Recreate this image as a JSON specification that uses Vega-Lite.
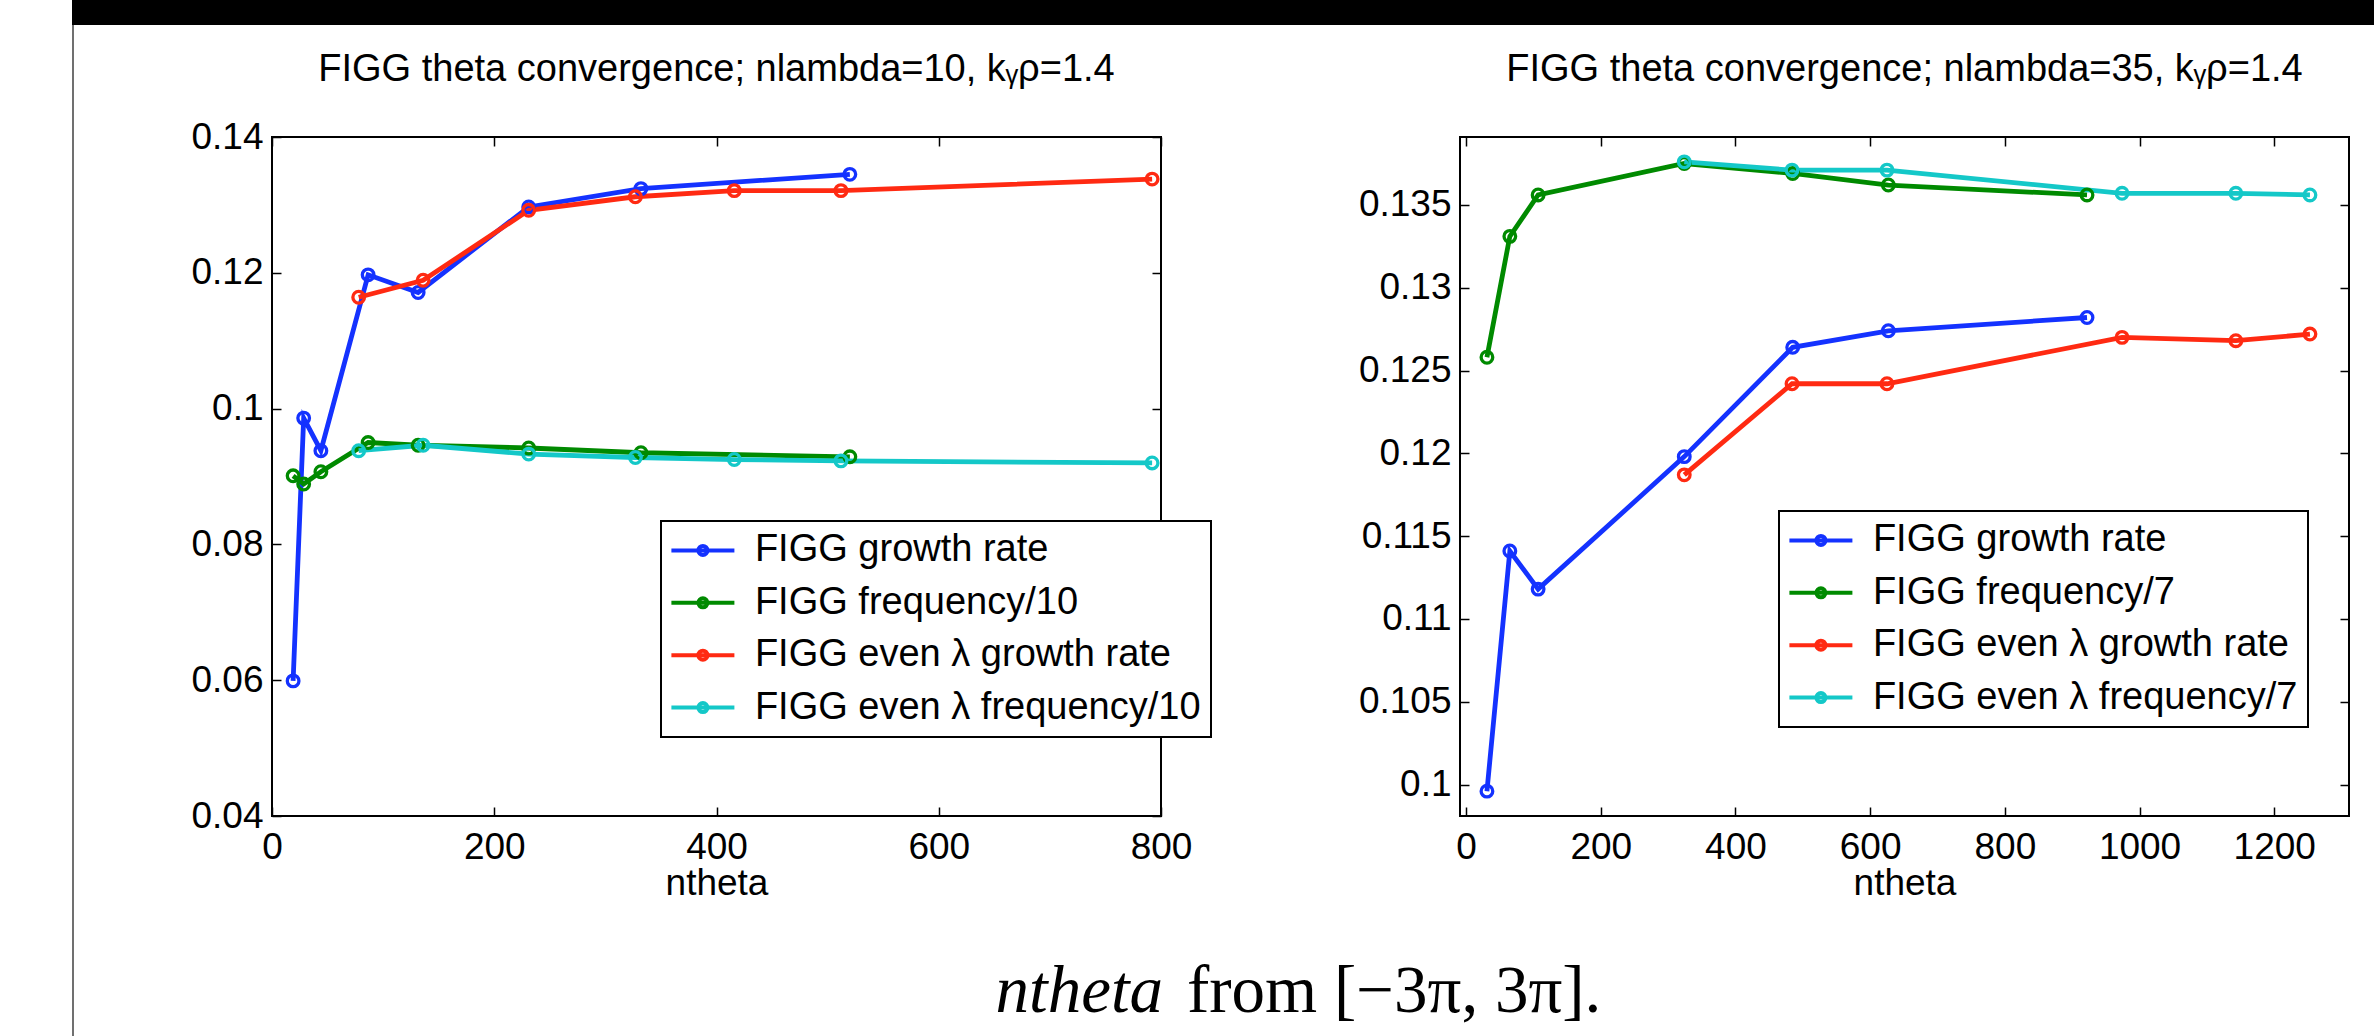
{
  "$schema": "https://vega.github.io/schema/vega-lite/v6.json",
  "background": "white",
  "padding": {"left": 72, "top": 0, "right": 0, "bottom": 0},
  "bounds": "flush",
  "spacing": 0,
  "config": {
    "view": {"stroke": null},
    "font": "Liberation Sans",
    "axis": {
      "domain": false, "grid": false, "tickColor": "black", "tickWidth": 1.5, "tickSize": -9,
      "labelFont": "Liberation Sans", "labelFontSize": 37, "labelColor": "black",
      "titleFont": "Liberation Sans", "titleFontSize": 37, "titleFontWeight": "normal", "titleColor": "black",
      "labelFlush": false, "labelOverlap": false, "labelPadding": 18, "titlePadding": 0
    },
    "axisBottom": {"labelPadding": 22},
    "axisLeft": {"labelPadding": 18},
    "title": {"font": "Liberation Sans", "fontSize": 38, "fontWeight": "normal", "color": "black", "anchor": "middle", "frame": "group", "baseline": "alphabetic", "offset": 47},
    "legend": {
      "orient": "none", "padding": 10.4, "rowPadding": 14.4, "strokeColor": "black", "fillColor": "white",
      "labelFont": "Liberation Sans", "labelFontSize": 38, "labelColor": "black", "labelLimit": 0,
      "symbolType": "M-2.1,0H2.1M0.3,0A0.3,0.3 0 1,1 -0.3,0A0.3,0.3 0 1,1 0.3,0",
      "symbolSize": 900, "symbolStrokeWidth": 4, "symbolOffset": 12.5, "labelOffset": 33, "symbolFillColor": "transparent"
    }
  },
  "datasets": {
    "left": [
      {"ntheta": 19, "value": 0.0599, "series": "FIGG growth rate"},
      {"ntheta": 28.5, "value": 0.0986, "series": "FIGG growth rate"},
      {"ntheta": 44, "value": 0.0938, "series": "FIGG growth rate"},
      {"ntheta": 86.5, "value": 0.1197, "series": "FIGG growth rate"},
      {"ntheta": 131.5, "value": 0.1171, "series": "FIGG growth rate"},
      {"ntheta": 231, "value": 0.1297, "series": "FIGG growth rate"},
      {"ntheta": 332, "value": 0.1324, "series": "FIGG growth rate"},
      {"ntheta": 520, "value": 0.1345, "series": "FIGG growth rate"},
      {"ntheta": 19, "value": 0.0901, "series": "FIGG frequency/10"},
      {"ntheta": 28.5, "value": 0.0889, "series": "FIGG frequency/10"},
      {"ntheta": 44, "value": 0.0907, "series": "FIGG frequency/10"},
      {"ntheta": 86.5, "value": 0.0950, "series": "FIGG frequency/10"},
      {"ntheta": 131.5, "value": 0.0946, "series": "FIGG frequency/10"},
      {"ntheta": 231, "value": 0.0942, "series": "FIGG frequency/10"},
      {"ntheta": 332, "value": 0.0935, "series": "FIGG frequency/10"},
      {"ntheta": 520, "value": 0.0929, "series": "FIGG frequency/10"},
      {"ntheta": 78, "value": 0.1164, "series": "FIGG even λ growth rate"},
      {"ntheta": 136, "value": 0.1189, "series": "FIGG even λ growth rate"},
      {"ntheta": 231, "value": 0.1292, "series": "FIGG even λ growth rate"},
      {"ntheta": 327, "value": 0.1312, "series": "FIGG even λ growth rate"},
      {"ntheta": 416, "value": 0.1321, "series": "FIGG even λ growth rate"},
      {"ntheta": 512, "value": 0.1321, "series": "FIGG even λ growth rate"},
      {"ntheta": 792, "value": 0.1338, "series": "FIGG even λ growth rate"},
      {"ntheta": 78, "value": 0.0938, "series": "FIGG even λ frequency/10"},
      {"ntheta": 136, "value": 0.0946, "series": "FIGG even λ frequency/10"},
      {"ntheta": 231, "value": 0.0933, "series": "FIGG even λ frequency/10"},
      {"ntheta": 327, "value": 0.0928, "series": "FIGG even λ frequency/10"},
      {"ntheta": 416, "value": 0.0925, "series": "FIGG even λ frequency/10"},
      {"ntheta": 512, "value": 0.0923, "series": "FIGG even λ frequency/10"},
      {"ntheta": 792, "value": 0.0920, "series": "FIGG even λ frequency/10"}
    ],
    "right": [
      {"ntheta": 31, "value": 0.0996, "series": "FIGG growth rate"},
      {"ntheta": 65, "value": 0.1141, "series": "FIGG growth rate"},
      {"ntheta": 107, "value": 0.1118, "series": "FIGG growth rate"},
      {"ntheta": 324, "value": 0.1198, "series": "FIGG growth rate"},
      {"ntheta": 485, "value": 0.1264, "series": "FIGG growth rate"},
      {"ntheta": 627, "value": 0.1274, "series": "FIGG growth rate"},
      {"ntheta": 922, "value": 0.1282, "series": "FIGG growth rate"},
      {"ntheta": 31, "value": 0.1258, "series": "FIGG frequency/7"},
      {"ntheta": 65, "value": 0.1331, "series": "FIGG frequency/7"},
      {"ntheta": 107, "value": 0.1356, "series": "FIGG frequency/7"},
      {"ntheta": 324, "value": 0.1375, "series": "FIGG frequency/7"},
      {"ntheta": 485, "value": 0.1369, "series": "FIGG frequency/7"},
      {"ntheta": 627, "value": 0.1362, "series": "FIGG frequency/7"},
      {"ntheta": 922, "value": 0.1356, "series": "FIGG frequency/7"},
      {"ntheta": 324, "value": 0.1187, "series": "FIGG even λ growth rate"},
      {"ntheta": 484, "value": 0.1242, "series": "FIGG even λ growth rate"},
      {"ntheta": 625, "value": 0.1242, "series": "FIGG even λ growth rate"},
      {"ntheta": 974, "value": 0.1270, "series": "FIGG even λ growth rate"},
      {"ntheta": 1143, "value": 0.1268, "series": "FIGG even λ growth rate"},
      {"ntheta": 1253, "value": 0.1272, "series": "FIGG even λ growth rate"},
      {"ntheta": 324, "value": 0.1376, "series": "FIGG even λ frequency/7"},
      {"ntheta": 484, "value": 0.1371, "series": "FIGG even λ frequency/7"},
      {"ntheta": 625, "value": 0.1371, "series": "FIGG even λ frequency/7"},
      {"ntheta": 974, "value": 0.1357, "series": "FIGG even λ frequency/7"},
      {"ntheta": 1143, "value": 0.1357, "series": "FIGG even λ frequency/7"},
      {"ntheta": 1253, "value": 0.1356, "series": "FIGG even λ frequency/7"}
    ]
  },
  "hconcat": [
    {
      "vconcat": [
        {"width": 2, "height": 25, "view": {"fill": "black", "stroke": null}, "data": {"values": []}, "mark": "rect"},
        {"width": 2, "height": 1011, "view": {"fill": "#707070", "stroke": null}, "data": {"values": []}, "mark": "rect"}
      ],
      "spacing": 0,
      "bounds": "flush"
    },
    {
      "vconcat": [
        {"width": 2302, "height": 25, "view": {"fill": "black", "stroke": null}, "data": {"values": []}, "mark": "rect"},
        {
          "hconcat": [
            {"width": 200, "height": 679, "data": {"values": []}, "mark": "point"},
            {
              "width": 889, "height": 679,
              "title": {"text": "FIGG theta convergence; nlambda=10, kᵧρ=1.4", "offset": 29},
              "view": {"stroke": "black", "strokeWidth": 2, "fill": "white"},
              "data": {"name": "left"},
              "resolve": {"axis": {"x": "independent", "y": "independent"}},
              "layer": [
                {
                  "mark": {"type": "line", "strokeWidth": 4.8},
                  "encoding": {
                    "x": {"field": "ntheta", "type": "quantitative", "scale": {"domain": [0, 800], "nice": false, "zero": false},
                          "axis": {"orient": "bottom", "values": [0, 200, 400, 600, 800], "title": "ntheta", "format": "d"}},
                    "y": {"field": "value", "type": "quantitative", "scale": {"domain": [0.04, 0.14], "nice": false, "zero": false},
                          "axis": {"orient": "left", "values": [0.04, 0.06, 0.08, 0.1, 0.12, 0.14], "title": null, "format": "~g"}},
                    "color": {"field": "series", "type": "nominal",
                              "scale": {"domain": ["FIGG growth rate", "FIGG frequency/10", "FIGG even λ growth rate", "FIGG even λ frequency/10"],
                                        "range": ["#1432ff", "#008a00", "#ff2a12", "#14c8c8"]},
                              "legend": {"title": null, "orient": "none", "legendX": 389, "legendY": 384,
                                         "encode": {"symbols": {"update": {"fill": {"value": "transparent"}, "strokeWidth": {"value": 4}, "opacity": {"value": 1}}},
                                                    "legend": {"update": {"strokeWidth": {"value": 2}}}}}}
                  }
                },
                {
                  "mark": {"type": "point", "filled": false, "size": 135, "strokeWidth": 3.3, "opacity": 1},
                  "encoding": {
                    "x": {"field": "ntheta", "type": "quantitative", "scale": {"domain": [0, 800], "nice": false, "zero": false}, "axis": null},
                    "y": {"field": "value", "type": "quantitative", "scale": {"domain": [0.04, 0.14], "nice": false, "zero": false}, "axis": null},
                    "color": {"field": "series", "type": "nominal",
                              "scale": {"domain": ["FIGG growth rate", "FIGG frequency/10", "FIGG even λ growth rate", "FIGG even λ frequency/10"],
                                        "range": ["#1432ff", "#008a00", "#ff2a12", "#14c8c8"]},
                              "legend": {"title": null, "orient": "none", "legendX": 389, "legendY": 384,
                                         "encode": {"symbols": {"update": {"fill": {"value": "transparent"}, "strokeWidth": {"value": 4}, "opacity": {"value": 1}}},
                                                    "legend": {"update": {"strokeWidth": {"value": 2}}}}}}
                  }
                },
                {
                  "mark": {"type": "point", "opacity": 0},
                  "encoding": {
                    "x": {"field": "ntheta", "type": "quantitative", "scale": {"domain": [0, 800], "nice": false, "zero": false},
                          "axis": {"orient": "top", "values": [0, 200, 400, 600, 800], "labels": false, "title": null}},
                    "y": {"field": "value", "type": "quantitative", "scale": {"domain": [0.04, 0.14], "nice": false, "zero": false},
                          "axis": {"orient": "right", "values": [0.04, 0.06, 0.08, 0.1, 0.12, 0.14], "labels": false, "title": null}}
                  }
                }
              ]
            },
            {"width": 299, "height": 679, "data": {"values": []}, "mark": "point"},
            {
              "width": 889, "height": 679,
              "title": {"text": "FIGG theta convergence; nlambda=35, kᵧρ=1.4", "offset": 47},
              "view": {"stroke": "black", "strokeWidth": 2, "fill": "white"},
              "data": {"name": "right"},
              "resolve": {"axis": {"x": "independent", "y": "independent"}},
              "layer": [
                {
                  "mark": {"type": "line", "strokeWidth": 4.8},
                  "encoding": {
                    "x": {"field": "ntheta", "type": "quantitative", "scale": {"domain": [-9, 1311], "nice": false, "zero": false},
                          "axis": {"orient": "bottom", "values": [0, 200, 400, 600, 800, 1000, 1200], "title": "ntheta", "format": "d"}},
                    "y": {"field": "value", "type": "quantitative", "scale": {"domain": [0.0981, 0.1391], "nice": false, "zero": false},
                          "axis": {"orient": "left", "values": [0.1, 0.105, 0.11, 0.115, 0.12, 0.125, 0.13, 0.135], "title": null, "format": "~g"}},
                    "color": {"field": "series", "type": "nominal",
                              "scale": {"domain": ["FIGG growth rate", "FIGG frequency/7", "FIGG even λ growth rate", "FIGG even λ frequency/7"],
                                        "range": ["#1432ff", "#008a00", "#ff2a12", "#14c8c8"]},
                              "legend": {"title": null, "orient": "none", "legendX": 319, "legendY": 374,
                                         "encode": {"symbols": {"update": {"fill": {"value": "transparent"}, "strokeWidth": {"value": 4}, "opacity": {"value": 1}}},
                                                    "legend": {"update": {"strokeWidth": {"value": 2}}}}}}
                  }
                },
                {
                  "mark": {"type": "point", "filled": false, "size": 135, "strokeWidth": 3.3, "opacity": 1},
                  "encoding": {
                    "x": {"field": "ntheta", "type": "quantitative", "scale": {"domain": [-9, 1311], "nice": false, "zero": false}, "axis": null},
                    "y": {"field": "value", "type": "quantitative", "scale": {"domain": [0.0981, 0.1391], "nice": false, "zero": false}, "axis": null},
                    "color": {"field": "series", "type": "nominal",
                              "scale": {"domain": ["FIGG growth rate", "FIGG frequency/7", "FIGG even λ growth rate", "FIGG even λ frequency/7"],
                                        "range": ["#1432ff", "#008a00", "#ff2a12", "#14c8c8"]},
                              "legend": {"title": null, "orient": "none", "legendX": 319, "legendY": 374,
                                         "encode": {"symbols": {"update": {"fill": {"value": "transparent"}, "strokeWidth": {"value": 4}, "opacity": {"value": 1}}},
                                                    "legend": {"update": {"strokeWidth": {"value": 2}}}}}}
                  }
                },
                {
                  "mark": {"type": "point", "opacity": 0},
                  "encoding": {
                    "x": {"field": "ntheta", "type": "quantitative", "scale": {"domain": [-9, 1311], "nice": false, "zero": false},
                          "axis": {"orient": "top", "values": [0, 200, 400, 600, 800, 1000, 1200], "labels": false, "title": null}},
                    "y": {"field": "value", "type": "quantitative", "scale": {"domain": [0.0981, 0.1391], "nice": false, "zero": false},
                          "axis": {"orient": "right", "values": [0.1, 0.105, 0.11, 0.115, 0.12, 0.125, 0.13, 0.135], "labels": false, "title": null}}
                  }
                }
              ]
            }
          ],
          "spacing": 0,
          "bounds": "flush",
          "resolve": {"scale": {"color": "independent"}, "legend": {"color": "independent"}}
        },
        {
          "width": 2206, "height": 1526,
          "layer": [
            {"data": {"values": [{"label": "ntheta"}]},
             "mark": {"type": "text", "align": "right", "baseline": "alphabetic", "dx": -12, "font": "Liberation Serif", "fontStyle": "italic", "fontSize": 67, "color": "black"},
             "encoding": {"text": {"field": "label"}}},
            {"data": {"values": [{"label": "from [−3π, 3π]."}]},
             "mark": {"type": "text", "align": "left", "baseline": "alphabetic", "dx": 12, "font": "Liberation Serif", "fontSize": 67, "color": "black"},
             "encoding": {"text": {"field": "label"}}}
          ]
        }
      ],
      "spacing": 112,
      "bounds": "flush"
    }
  ]
}
